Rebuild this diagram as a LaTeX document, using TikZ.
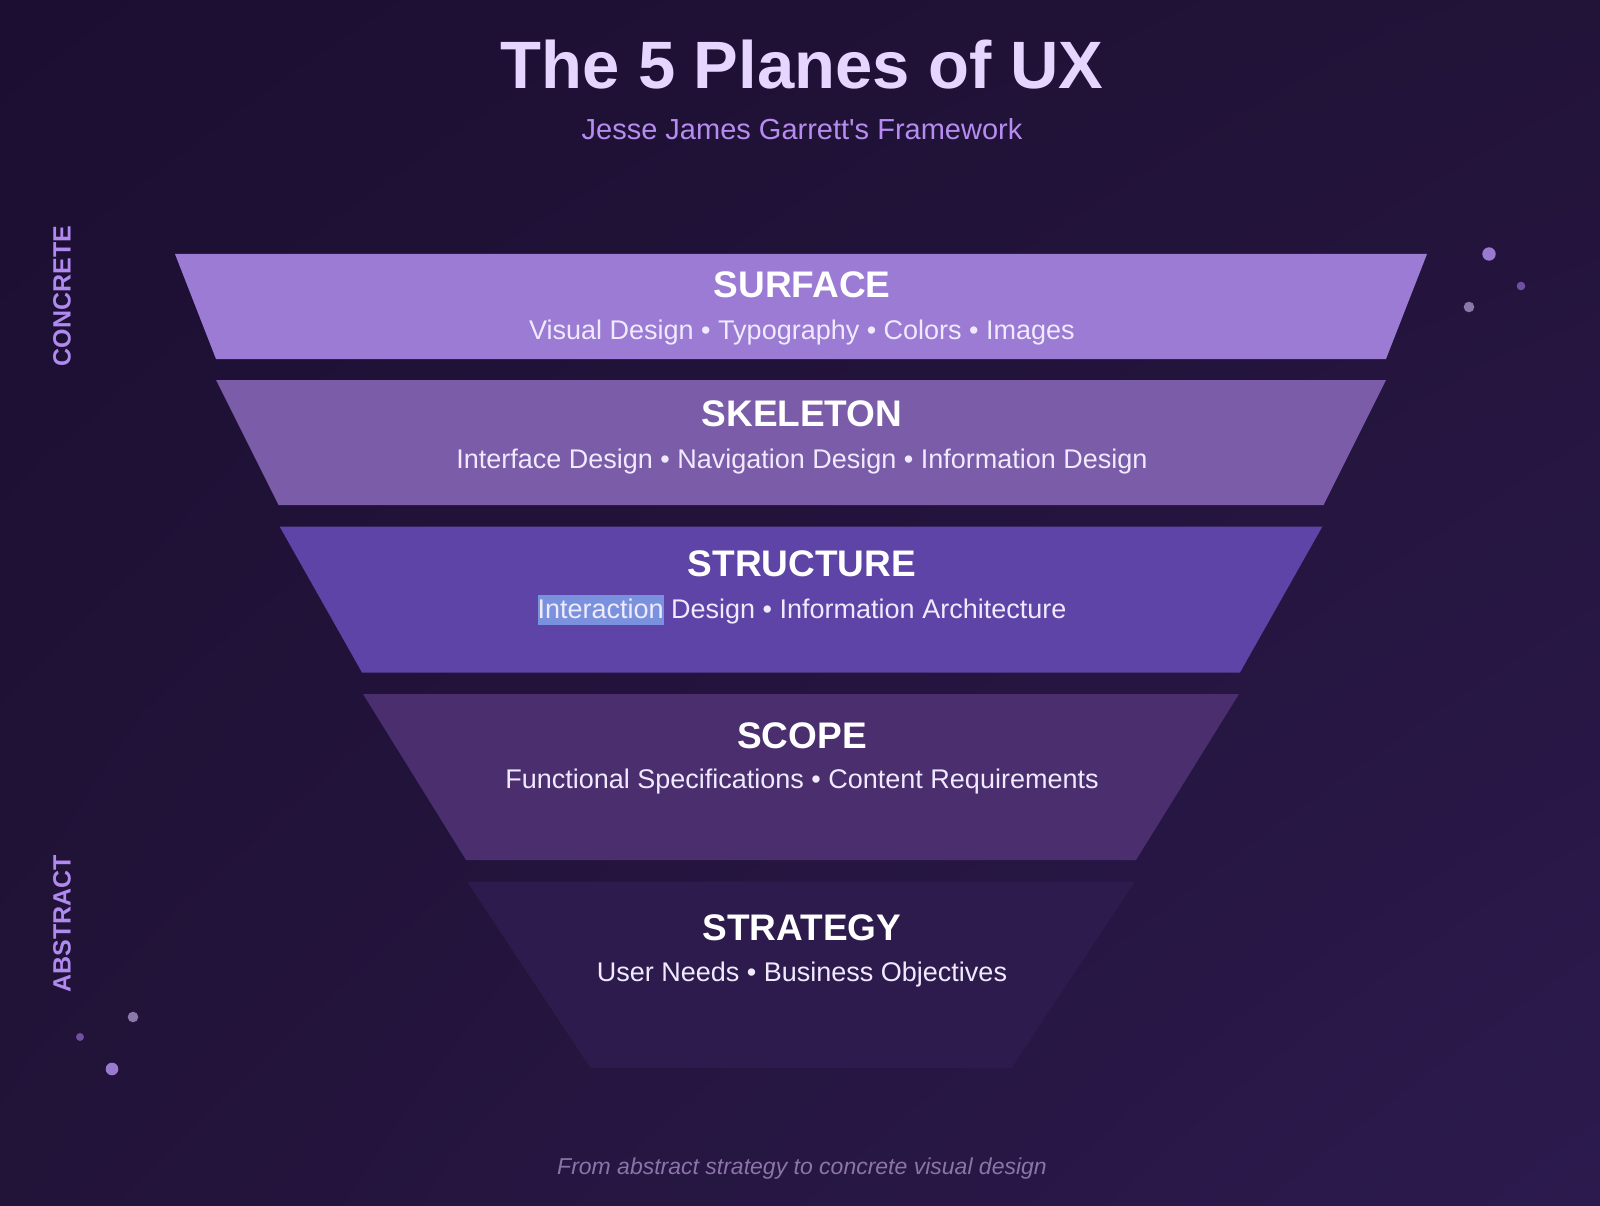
\documentclass[tikz,border=0pt]{standalone}
\usepackage{fontspec}
\setmainfont{Liberation Sans}
\usetikzlibrary{positioning, shadings}

\definecolor{bgtl}{HTML}{1C0E32}
\definecolor{bgmid}{HTML}{221339}
\definecolor{bgbr}{HTML}{2C1A4E}
\definecolor{titlelav}{HTML}{E6D6FF}
\definecolor{sublav}{HTML}{B68CF0}
\definecolor{sidelav}{HTML}{B08AEE}
\definecolor{captlav}{HTML}{8A74A8}
\definecolor{desclav}{HTML}{F0EAFF}
\definecolor{surfacecol}{HTML}{9B7BD3}
\definecolor{skeletoncol}{HTML}{7B5CA8}
\definecolor{structurecol}{HTML}{5E44A6}
\definecolor{scopecol}{HTML}{4A2E6E}
\definecolor{strategycol}{HTML}{2E1B4E}
\definecolor{selhl}{HTML}{7A91DE}
\definecolor{dotbright}{HTML}{9A7AD0}
\definecolor{dotdim}{HTML}{7050A0}
\definecolor{dotgrey}{HTML}{8A78A8}

\newcommand{\hlword}[1]{{\setlength{\fboxsep}{0pt}\colorbox{selhl}{\rule[-6.5pt]{0pt}{30pt}#1}}}
\newcommand{\straightquote}{{\XeTeXglyph\XeTeXglyphindex "quotesingle"\relax}}

\begin{document}
\begin{tikzpicture}[
  x=1pt, y=-1pt,
  heading/.style={anchor=base, inner sep=0pt, text=titlelav,
                  font=\bfseries\fontsize{67}{67}\selectfont},
  subheading/.style={anchor=base, inner sep=0pt, text=sublav,
                     font=\fontsize{29}{29}\selectfont},
  planetitle/.style={anchor=base, inner sep=0pt, text=white,
                     font=\bfseries\fontsize{37}{37}\selectfont},
  planedesc/.style={anchor=base, inner sep=0pt, text=desclav,
                    font=\fontsize{27}{30}\selectfont},
  sidelabel/.style={rotate=90, inner sep=0pt, text=sidelav,
                    font=\bfseries\fontsize{25}{25}\selectfont},
  caption/.style={anchor=base, inner sep=0pt, text=captlav,
                  font=\itshape\fontsize{23}{23}\selectfont},
]
\useasboundingbox (0,0) rectangle (1600,1206);
\shade[upper left=bgtl, upper right=bgmid, lower left=bgmid, lower right=bgbr]
  (0,0) rectangle (1600,1206);

% header
\node (title)    [heading]    at (802,89)  {The 5 Planes of UX};
\node (subtitle) [subheading] at (802,140)
  {Jesse James Garrett\straightquote s Framework};

% the five planes (top y / bottom y / top half width / bottom half width)
\foreach \pname/\yt/\yb/\wt/\wb/\pcol in {
    surface/254/359/626/585/surfacecol,
    skeleton/380/505/585/522.5/skeletoncol,
    structure/526.5/672.5/521.4/439/structurecol,
    scope/694/860/438/335/scopecol,
    strategy/881.6/1068/334/210.5/strategycol}
  \fill[\pcol] ({801-\wt},\yt) -- ({801+\wt},\yt)
               -- ({801+\wb},\yb) -- ({801-\wb},\yb) -- cycle;

% plane labels
\node (surface-t)   [planetitle] at (802,297) {SURFACE};
\node (surface-d)   [planedesc]  at (802,339)
  {Visual Design • Typography • Colors • Images};
\node (skeleton-t)  [planetitle] at (802,426) {SKELETON};
\node (skeleton-d)  [planedesc]  at (802,468)
  {Interface Design • Navigation Design • Information Design};
\node (structure-t) [planetitle] at (802,576) {STRUCTURE};
\node (structure-d) [planedesc]  at (802,618)
  {\hlword{Interaction} Design • Information Architecture};
\node (scope-t)     [planetitle] at (802,748) {SCOPE};
\node (scope-d)     [planedesc]  at (802,788)
  {Functional Specifications • Content Requirements};
\node (strategy-t)  [planetitle] at (802,940) {STRATEGY};
\node (strategy-d)  [planedesc]  at (802,981)
  {User Needs • Business Objectives};

% side axis labels
\node (concrete) [sidelabel] at (62,296)   {CONCRETE};
\node (abstract) [sidelabel] at (62,923.5) {ABSTRACT};

% decorative dots
\fill[dotbright] (1489,254) circle (6.7pt);
\fill[dotdim]    (1521,286) circle (4.3pt);
\fill[dotgrey]   (1469,307) circle (5.3pt);
\fill[dotgrey]   (133,1017) circle (5.3pt);
\fill[dotdim]    (80,1037)  circle (4pt);
\fill[dotbright] (112,1069) circle (6.3pt);

% footer
\node (footer) [caption] at (802,1174)
  {From abstract strategy to concrete visual design};
\end{tikzpicture}
\end{document}
